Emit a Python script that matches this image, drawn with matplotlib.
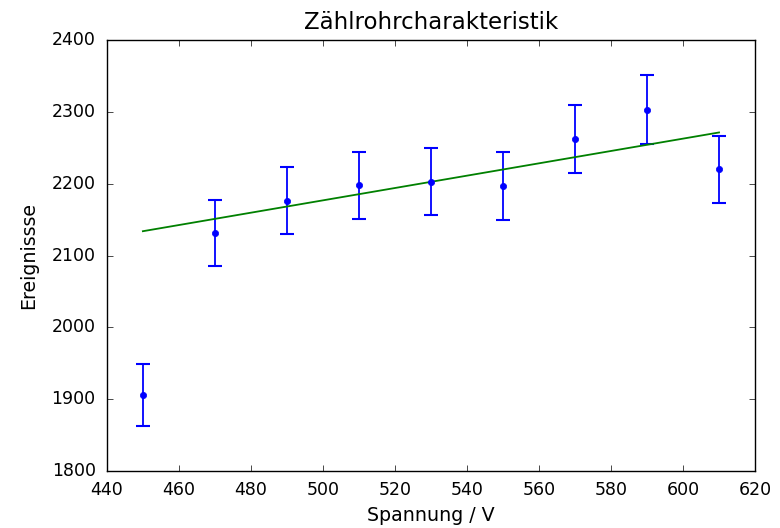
import numpy as np
import matplotlib
matplotlib.use("Agg")
import matplotlib.pyplot as plt

plt.style.use("classic")

# Messwerte
spannung = [450, 470, 490, 510, 530, 550, 570, 590, 610]
ereignisse = [1906, 2131, 2176, 2198, 2203, 2197, 2262, 2303, 2220]
fehler = np.sqrt(ereignisse)

# lineare Ausgleichsgerade (ohne ersten Punkt)
m, b = np.polyfit(spannung[1:], ereignisse[1:], 1)
x_fit = np.array([spannung[0], spannung[-1]])

fig = plt.figure(figsize=(7.8, 5.28), dpi=100)
ax = fig.add_axes([0.137, 0.108, 0.831, 0.816])

ax.errorbar(spannung, ereignisse, yerr=fehler, fmt="o", color="b",
            markersize=4.5, markeredgecolor="b", capsize=5, capthick=1.5,
            linewidth=1.3)
ax.plot(x_fit, m * x_fit + b, color="g", linewidth=1.3)

ax.set_xlim(440, 620)
ax.set_ylim(1800, 2400)
ax.tick_params(axis="both", labelsize=12.5)
ax.tick_params(axis="y", pad=8)
ax.tick_params(axis="x", pad=7)
ax.set_title("Zählrohrcharakteristik", fontsize=16.5, y=1.01)
ax.set_xlabel("Spannung / V", fontsize=13.7)
ax.set_ylabel("Ereignissse", fontsize=13.7, labelpad=10)

fig.savefig("out.png", dpi=100)
